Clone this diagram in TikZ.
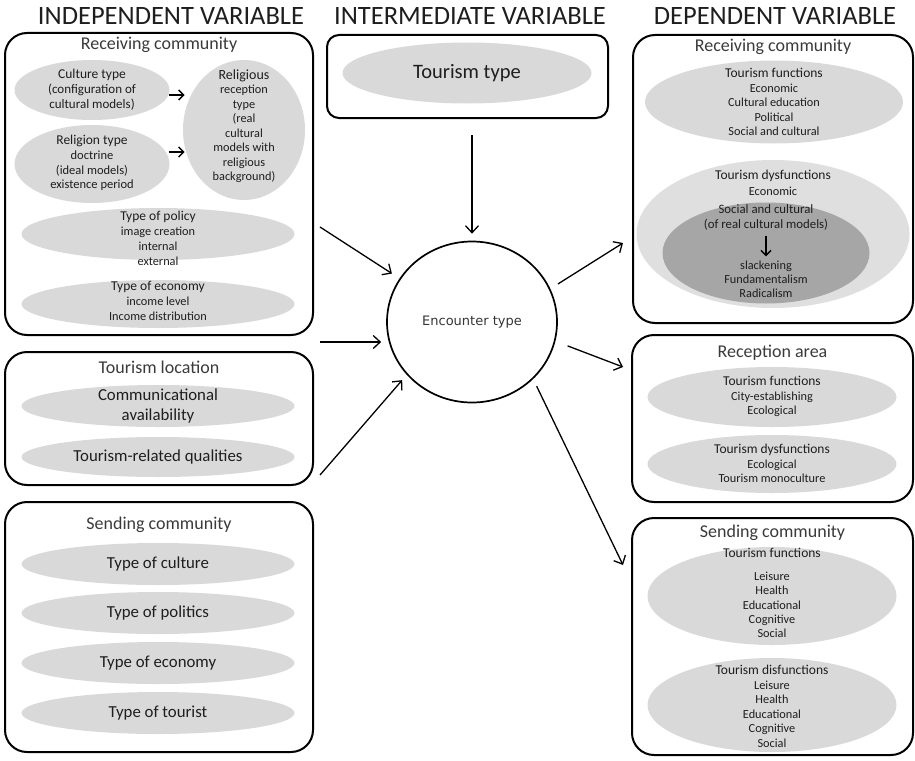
\documentclass[tikz,border=0pt]{standalone}
\usepackage{fontspec}
\setmainfont{Carlito}
\newfontfamily\encfont{DejaVu Sans}
\usepackage{xcolor}
\usepackage{tikz}
\usetikzlibrary{shapes.geometric}
\usetikzlibrary{arrows,arrows.meta}

\definecolor{blobgray}{HTML}{D9D9D9}
\definecolor{blobdark}{HTML}{A6A6A6}
\definecolor{ink}{HTML}{1E1E1E}
\definecolor{titlegray}{HTML}{3A3A3A}

\newcommand{\hd}[1]{{\fontsize{13.5}{15}\selectfont #1}}
\newcommand{\bigsize}{\fontsize{14}{17}\selectfont}
\newcommand{\smallsize}{\fontsize{12.3}{14.5}\selectfont}

\begin{document}
\begin{tikzpicture}[x=1pt,y=-1pt,
    panel/.style={draw, line width=2pt, rounded corners=22pt,
      rectangle, inner sep=0pt},
    blob/.style={ellipse, fill=blobgray, inner sep=0pt},
    blobtext/.style={align=center, text=ink, inner sep=0pt,
      font=\fontsize{12.3}{14.5}\selectfont},
    bigtext/.style={blobtext, font=\fontsize{16.8}{20}\selectfont},
    headline/.style={font=\fontsize{26.5}{28}\selectfont, text=ink},
    paneltitle/.style={font=\fontsize{18}{19}\selectfont, text=titlegray},
    flow/.style={-{Straight Barb[length=7pt,width=13pt]}, line width=1.3pt},
    shortflow/.style={-{Straight Barb[length=5pt,width=10pt]}, line width=1.5pt}]
  \useasboundingbox (0,0) rectangle (915,760);

  % column headings
  \node[headline] (hindep) at (171,16) {INDEPENDENT VARIABLE};
  \node[headline] (hinter) at (470,16) {INTERMEDIATE VARIABLE};
  \node[headline] (hdep) at (775,16) {DEPENDENT VARIABLE};

  % independent: receiving community
  \node[panel, minimum width=308pt, minimum height=302pt] (lrec) at (159,184) {};
  \node[paneltitle] (lrectitle) at (159,45) {Receiving community};
  \node[blob, minimum width=155pt, minimum height=60pt] (culture) at (92,90) {};
  \node[blobtext, font=\fontsize{13}{15}\selectfont] (culturetext) at (culture)
    {\hd{Culture type}\\(configuration of\\cultural models)};
  \node[blob, minimum width=155pt, minimum height=78pt] (religion) at (92,164) {};
  \node[blobtext, font=\fontsize{12.5}{14.7}\selectfont] (religiontext) at (92,163)
    {\hd{Religion type}\\doctrine\\(ideal models)\\existence period};
  \node[blob, minimum width=122pt, minimum height=140pt] (recept) at (244,130) {};
  \node[blobtext] (recepttext) at (244,126)
    {\bigsize Religious\\reception\\type\\\smallsize (real\\cultural\\models with\\religious\\background)};
  \draw[shortflow] ([shift={(-1pt,-5pt)}]culture.east) -- ++(16,0);
  \draw[shortflow] ([shift={(-1pt,12pt)}]religion.east) -- ++(16,0);
  \node[blob, minimum width=273pt, minimum height=52pt] (policy) at (158,234) {};
  \node[blobtext, font=\fontsize{12.3}{15}\selectfont] (policytext) at (158,238.5)
    {\hd{Type of policy}\\image creation\\internal\\external};
  \node[blob, minimum width=273pt, minimum height=48pt] (leconomy) at (158,304) {};
  \node[blobtext, font=\fontsize{12.3}{15}\selectfont] (leconomytext) at (158,301)
    {\hd{Type of economy}\\income level\\Income distribution};

  % independent: tourism location
  \node[panel, minimum width=308pt, minimum height=133pt] (lloc) at (159,418.5) {};
  \node[paneltitle] (lloctitle) at (159,367) {Tourism location};
  \node[blob, minimum width=273pt, minimum height=42pt] (commun) at (158,406) {};
  \node[bigtext] (communtext) at (commun) {Communicational\\availability};
  \node[blob, minimum width=273pt, minimum height=40pt] (qualities) at (158,457) {};
  \node[bigtext] (qualitiestext) at (qualities) {Tourism-related qualities};

  % independent: sending community
  \node[panel, minimum width=308pt, minimum height=250pt] (lsend) at (159,627) {};
  \node[paneltitle] (lsendtitle) at (159,525) {Sending community};
  \node[blob, minimum width=273pt, minimum height=42pt] (sculture) at (158,564) {};
  \node[bigtext] (sculturetext) at (sculture) {Type of culture};
  \node[blob, minimum width=273pt, minimum height=42pt] (spolitics) at (158,613) {};
  \node[bigtext] (spoliticstext) at (spolitics) {Type of politics};
  \node[blob, minimum width=273pt, minimum height=42pt] (seconomy) at (158,663) {};
  \node[bigtext] (seconomytext) at (seconomy) {Type of economy};
  \node[blob, minimum width=273pt, minimum height=42pt] (stourist) at (158,713) {};
  \node[bigtext] (stouristtext) at (stourist) {Type of tourist};

  % intermediate
  \node[panel, minimum width=281pt, minimum height=83pt, rounded corners=12pt] (mid) at (467.5,76.5) {};
  \node[blob, minimum width=249pt, minimum height=61pt] (ttype) at (467,73) {};
  \node[blobtext, font=\fontsize{20.5}{22}\selectfont] (ttypetext) at (ttype) {Tourism type};
  \node[ellipse, draw, line width=1.7pt, minimum width=170pt, minimum height=161pt,
    font=\encfont\fontsize{13}{15}\selectfont, text=ink!90] (enc) at (472,322) {Encounter type};

  % dependent: receiving community
  \node[panel, minimum width=280pt, minimum height=288pt] (rrec) at (773,179) {};
  \node[paneltitle] (rrectitle) at (773,47) {Receiving community};
  \node[blob, minimum width=258pt, minimum height=83pt] (rfunc) at (774,102) {};
  \node[blobtext] (rfunctext) at (rfunc)
    {\hd{Tourism functions}\\Economic\\Cultural education\\Political\\Social and cultural};
  \node[ellipse, fill=blobgray!85, minimum width=273pt, minimum height=148pt] (dysout) at (773,234) {};
  \node[ellipse, fill=blobdark, minimum width=207pt, minimum height=101pt] (dysin) at (766,253) {};
  \node[blobtext, font=\fontsize{12.3}{16}\selectfont] (dystop) at (773,183)
    {\hd{Tourism dysfunctions}\\Economic};
  \node[blobtext, font=\fontsize{12.8}{15}\selectfont] (dysmid) at (766,217.5)
    {Social and cultural\\(of real cultural models)};
  \node[blobtext, font=\fontsize{12.3}{14}\selectfont] (dysbot) at (766,279)
    {slackening\\Fundamentalism\\Radicalism};
  \draw[shortflow] ([yshift=-5pt]dysmid.south) -- ([yshift=4pt]dysbot.north);

  % dependent: reception area
  \node[panel, minimum width=281pt, minimum height=167pt] (rarea) at (772.5,418.5) {};
  \node[paneltitle] (rareatitle) at (772.5,353) {Reception area};
  \node[blob, minimum width=249pt, minimum height=60pt] (afunc) at (772,397) {};
  \node[blobtext] (afunctext) at (772,396.5)
    {\hd{Tourism functions}\\City-establishing\\Ecological};
  \node[blob, minimum width=249pt, minimum height=58pt] (adys) at (772,464) {};
  \node[blobtext] (adystext) at (772,463.5)
    {\hd{Tourism dysfunctions}\\Ecological\\Tourism monoculture};

  % dependent: sending community
  \node[panel, minimum width=281pt, minimum height=237pt] (rsend) at (772.5,636.5) {};
  \node[paneltitle] (rsendtitle) at (772.5,533) {Sending community};
  \node[blob, minimum width=249pt, minimum height=98pt] (sfunc) at (772,596) {};
  \node[blobtext, font=\fontsize{12.3}{14.3}\selectfont] (sfunctext) at (772,593)
    {\hd{Tourism functions}\\[9pt]Leisure\\Health\\Educational\\Cognitive\\Social};
  \node[blob, minimum width=249pt, minimum height=94pt] (sdys) at (772,705) {};
  \node[blobtext, font=\fontsize{12.3}{14.5}\selectfont] (sdystext) at (772,706.5)
    {\hd{Tourism disfunctions}\\Leisure\\Health\\Educational\\Cognitive\\Social};

  % connectors
  \coordinate (s0) at (472,135);
  \coordinate (s1) at (320,227);
  \coordinate (s2) at (320,342);
  \coordinate (s3) at (320,475);
  \coordinate (t1) at (623,243);
  \coordinate (t2) at (623,367);
  \coordinate (t3) at (623,565);
  \draw[flow, shorten >=7pt] (s0) -- (enc.north);
  \draw[flow, shorten >=9pt] (s1) -- (enc.149);
  \draw[flow, shorten >=5pt] (s2) -- (s2 -| enc.west);
  \draw[flow, shorten >=7pt] (s3) -- (enc.219);
  \draw[flow, shorten <=9pt] (enc.23) -- (t1);
  \draw[flow, shorten <=13pt] (enc.-13) -- (t2);
  \draw[flow, shorten <=8pt] (enc.-43) -- (t3);
\end{tikzpicture}
\end{document}
